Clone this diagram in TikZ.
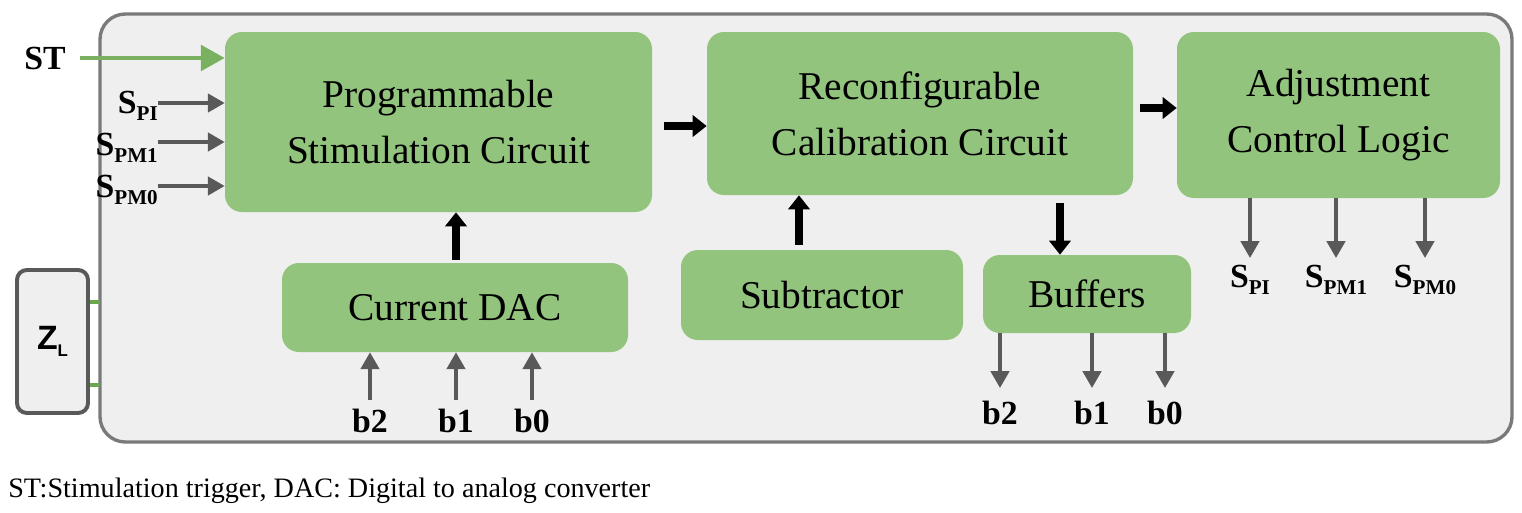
\documentclass[tikz,border=0pt]{standalone}
\usepackage{fontspec}
\setmainfont{Liberation Serif}
\newfontfamily\sansf{Liberation Sans}
\usetikzlibrary{arrows.meta}
\definecolor{gfill}{HTML}{93C47D}
\definecolor{gline}{HTML}{6AA84F}
\definecolor{dgray}{HTML}{595959}
\definecolor{bgray}{HTML}{EFEFEF}
\newcommand{\sbs}[1]{\raisebox{-0.45ex}{\fontsize{15}{16}\selectfont #1}}
\begin{document}
\begin{tikzpicture}[x=0.025cm,y=-0.025cm,
 blk/.style={draw=none,fill=gfill,rounded corners=12pt,align=center,font=\fontsize{28}{32}\selectfont,inner sep=0pt},
 lab/.style={font=\bfseries\fontsize{24}{26}\selectfont,inner sep=0pt},
 garr/.style={dgray,line width=2.6pt,-{Triangle[length=12pt,width=13pt]}},
 barr/.style={black,line width=5pt,-{Triangle[length=10pt,width=15pt]}}]
\useasboundingbox (0,0) rectangle (1522,513);
\draw[dgray!80,fill=bgray,line width=2.4pt,rounded corners=18pt] (100,14) rectangle (1512,442);
\node[blk,minimum width=427*0.025cm,minimum height=180*0.025cm] (psc) at (438.5,122) {Programmable\\[8pt]Stimulation Circuit};
\node[blk,minimum width=426*0.025cm,minimum height=163*0.025cm] (rcc) at (920,113.5) {Reconfigurable\\[8pt]Calibration Circuit};
\node[blk,minimum width=323*0.025cm,minimum height=166*0.025cm] (acl) at (1338.5,115) {Adjustment\\[8pt]Control Logic};
\node[blk,minimum width=346*0.025cm,minimum height=89*0.025cm] (dac) at (455,307.5) {Current DAC};
\node[blk,minimum width=282*0.025cm,minimum height=90*0.025cm] (sub) at (822,295) {Subtractor};
\node[blk,minimum width=208*0.025cm,minimum height=78*0.025cm] (buf) at (1087,294) {Buffers};
\node[draw=dgray,line width=2.8pt,fill=bgray,rounded corners=7pt,minimum width=71*0.025cm,minimum height=143*0.025cm,font=\sansf\bfseries\fontsize{24}{26}\selectfont] (zl) at (52.5,341.5) {Z\raisebox{-0.4ex}{\fontsize{12}{14}\selectfont L}};
\draw[gline,line width=2.8pt] (zl.east|-0,302) -- (100,302);
\draw[gline,line width=2.8pt] (zl.east|-0,385) -- (100,385);
% ST
\node[lab] (st) at (45,58) {ST};
\coordinate (sts) at (80,58);
\draw[gline!90,line width=3.5pt,-{Triangle[length=17pt,width=18pt]}] (sts) -- (psc.west|-0,58);
% S inputs
\node[lab,anchor=east] (s1) at (158,106) {S\sbs{PI}};
\node[lab,anchor=east] (s2) at (158,148) {S\sbs{PM1}};
\node[lab,anchor=east] (s3) at (158,190) {S\sbs{PM0}};
\coordinate (c1) at (158,103);\coordinate (c2) at (158,142);\coordinate (c3) at (158,186);
\foreach \c in {c1,c2,c3} \draw[garr] (\c) -- (psc.west|-\c);
% black arrows
\draw[barr] (psc.east|-0,126)++(12,0) coordinate (a1) (a1) -- (rcc.west|-0,126);
\draw[barr] (rcc.east|-0,108)++(7,0) coordinate (a2) (a2) -- (acl.west|-0,108);
\draw[barr] (dac.north-|456,0) ++(0,-3) -- (psc.south-|456,0);
\draw[barr] (sub.north-|799,0) ++(0,-5) -- (rcc.south-|799,0);
\draw[barr] (rcc.south-|1060,0) ++(0,8) -- (buf.north-|1060,0);
% ACL outputs
\foreach \x/\t in {1250/S\sbs{PI},1336/S\sbs{PM1},1425/S\sbs{PM0}}{
 \node[lab] (o\x) at (\x,280) {\t};
 \draw[garr] (acl.south-|\x,0) -- (\x,258);}
% DAC inputs
\foreach \x/\t in {370/b2,456/b1,532/b0}{
 \node[lab] (i\x) at (\x,421) {\t};
 \draw[garr] (\x,400) -- (dac.south-|\x,0);}
% buffer outputs
\foreach \x/\t in {1000/b2,1092/b1,1165/b0}{
 \node[lab] (u\x) at (\x,413) {\t};
 \draw[garr] (buf.south-|\x,0) -- (\x,388);}
\node[anchor=west,font=\fontsize{20}{22}\selectfont,inner sep=0pt] (cap) at (8,491) {ST:Stimulation trigger, DAC: Digital to analog converter};
\end{tikzpicture}
\end{document}
